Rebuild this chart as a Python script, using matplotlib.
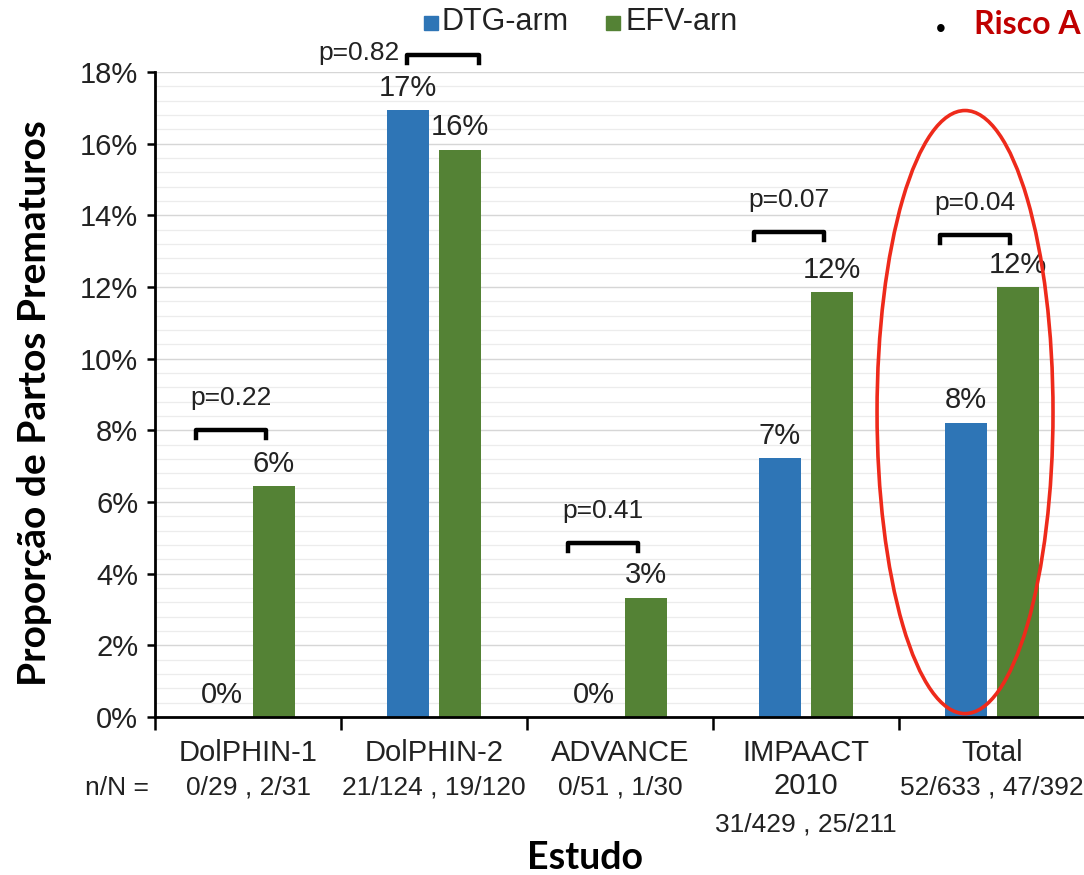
import numpy as np
import matplotlib.pyplot as plt
from matplotlib.patches import Ellipse, Rectangle

# data
studies = ["DolPHIN-1", "DolPHIN-2", "ADVANCE", "IMPAACT\n2010", "Total"]
dtg = [0.0, 16.94, 0.0, 7.23, 8.21]
efv = [6.45, 15.83, 3.33, 11.85, 11.99]
dtg_labels = ["0%", "17%", "0%", "7%", "8%"]
efv_labels = ["6%", "16%", "3%", "12%", "12%"]
n_over_n = ["0/29 , 2/31", "21/124 , 19/120", "0/51 , 1/30", "31/429 , 25/211", "52/633 , 47/392"]
p_values = ["p=0.22", "p=0.82", "p=0.41", "p=0.07", "p=0.04"]

# bracket heights (in %) for the p-value marks
bracket_y = [8.0, 18.48, 4.86, 13.54, 13.45]

blue = "#2E75B6"
green = "#548235"
txt = "#222222"
arial = "Liberation Sans"
calibri = "Lato"

fig = plt.figure(figsize=(10.84, 8.75), dpi=100)
ax = fig.add_axes([155 / 1084, 1 - 717 / 875, 930 / 1084, 645 / 875])

x = np.arange(len(studies))
w = 0.226
off = 0.14
b1 = ax.bar(x - off, dtg, w, color=blue, zorder=3)
b2 = ax.bar(x + off, efv, w, color=green, zorder=3)

for bars, labels in [(b1, dtg_labels), (b2, efv_labels)]:
    for rect, lab in zip(bars, labels):
        ax.annotate(lab, (rect.get_x() + rect.get_width() / 2, rect.get_height()),
                    xytext=(0, 6), textcoords="offset points", ha="center", va="bottom",
                    fontsize=21, family=arial, color=txt)

# p-value brackets
for i, (p, yb) in enumerate(zip(p_values, bracket_y)):
    if i == 1:
        x0, x1 = i - 0.145, i + 0.24
    else:
        x0, x1 = i - 0.28, i + 0.097
    ax.plot([x0, x0, x1, x1], [yb - 0.22, yb, yb, yb - 0.22], color="black",
            lw=3.2, solid_joinstyle="round", clip_on=False, zorder=4)
    if i == 1:
        ax.text(x0 - 0.04, yb + 0.05, p, ha="right", va="center", fontsize=19,
                family=arial, color=txt)
    else:
        ax.text((x0 + x1) / 2, yb + 0.9, p, ha="center", va="center", fontsize=19,
                family=arial, color=txt)

ax.add_patch(Ellipse((3.855, 8.51), 0.946, 16.83, fill=False, edgecolor="#EE2A1B",
                     lw=2.6, zorder=5))

ax.set_xlim(-0.5, 4.5)
ax.set_ylim(0, 18)
ax.set_yticks(np.arange(0, 19, 2))
ax.set_yticklabels([f"{v}%" for v in range(0, 19, 2)], fontsize=21, family=arial, color=txt)
ax.set_yticks(np.arange(0, 18.01, 0.4), minor=True)
ax.tick_params(axis="y", which="major", length=6, width=1.8, direction="out", pad=6)
ax.tick_params(axis="y", which="minor", length=0)
ax.grid(axis="y", which="major", color="#d6d6d6", lw=1.0, zorder=0)
ax.grid(axis="y", which="minor", color="#ececec", lw=0.9, zorder=0)

ax.set_xticks(x)
ax.set_xticklabels([])
ax.tick_params(axis="x", which="major", length=0)
ax.set_xticks(np.arange(-0.5, 4.6, 1), minor=True)
ax.tick_params(axis="x", which="minor", length=9, width=1.8, direction="out")

for s in ["top", "right"]:
    ax.spines[s].set_visible(False)
for s in ["left", "bottom"]:
    ax.spines[s].set_linewidth(2.0)
    ax.spines[s].set_zorder(6)

tr = ax.get_xaxis_transform()
for i, name in enumerate(studies):
    parts = name.split("\n")
    ax.text(i, -0.056, parts[0], transform=tr, ha="center", va="center",
            fontsize=21, family=arial, color=txt)
    if len(parts) > 1:
        ax.text(i, -0.107, parts[1], transform=tr, ha="center", va="center",
                fontsize=21, family=arial, color=txt)
        ny = -0.166
    else:
        ny = -0.110
    ax.text(i, ny, n_over_n[i], transform=tr, ha="center", va="center",
            fontsize=19, family=arial, color=txt)
fig.text(117 / 1084, 1 - 788 / 875, "n/N =", ha="center", va="center",
         fontsize=19, family=arial, color=txt)

fig.text(585 / 1084, 1 - 858 / 875, "Estudo", ha="center", va="center",
         fontsize=27, family=calibri, weight="bold")
fig.text(35 / 1084, 1 - 403 / 875, "Proporção de Partos Prematuros", ha="center",
         va="center", rotation=90, fontsize=28, family=calibri, weight="bold")

# legend drawn at the top
fig.patches.append(Rectangle((424 / 1084, 1 - 30 / 875), 14 / 1084, 14 / 875,
                             transform=fig.transFigure, color=blue))
fig.text(442 / 1084, 1 - 22 / 875, "DTG-arm", ha="left", va="center",
         fontsize=22, family=arial, color=txt)
fig.patches.append(Rectangle((606 / 1084, 1 - 30 / 875), 14 / 1084, 14 / 875,
                             transform=fig.transFigure, color=green))
fig.text(625 / 1084, 1 - 22 / 875, "EFV-arn", ha="left", va="center",
         fontsize=22, family=arial, color=txt)

fig.text(941 / 1084, 1 - 30 / 875, "•", ha="center", va="center", fontsize=20,
         family=arial, color="black")
fig.text(1081 / 1084, 1 - 24 / 875, "Risco A", ha="right", va="center", fontsize=23,
         family=calibri, weight="bold", color="#C00000")

fig.savefig("out.png", dpi=100)
